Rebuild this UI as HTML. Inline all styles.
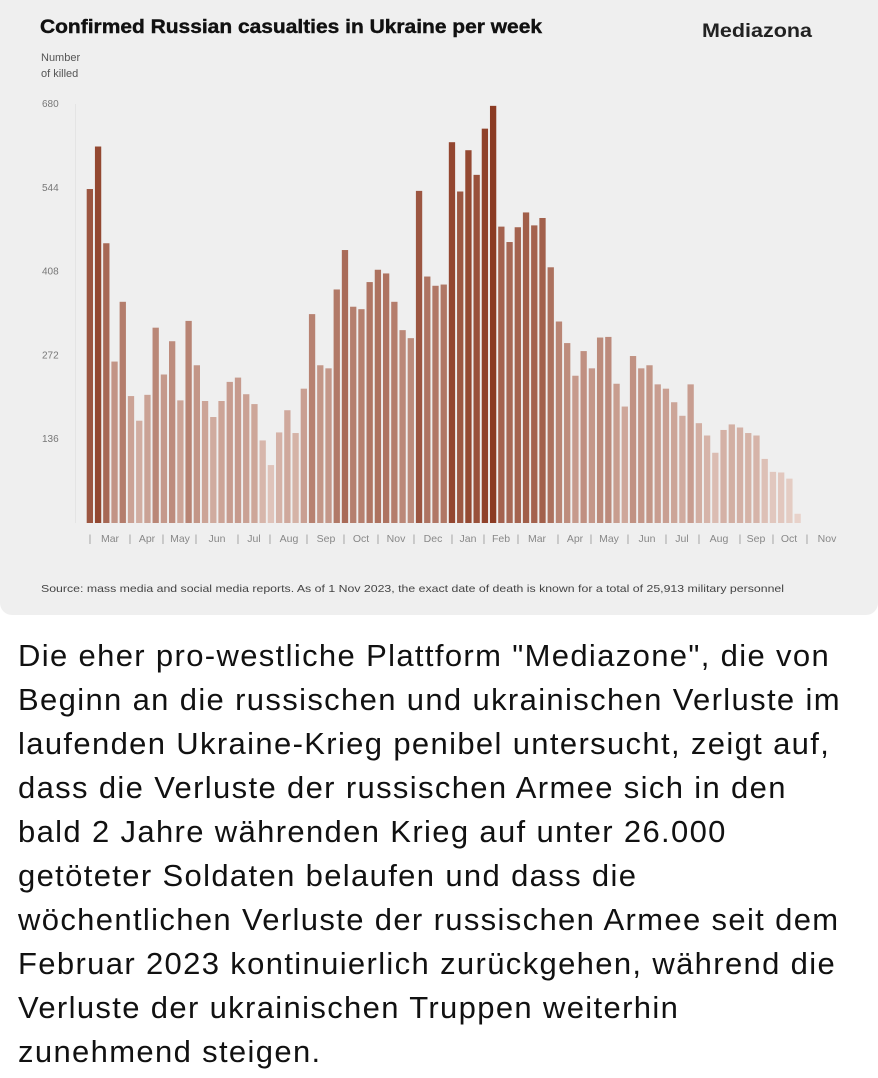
<!DOCTYPE html>
<html><head><meta charset="utf-8"><style>
html,body{margin:0;padding:0;background:#fff;width:878px;height:1078px;overflow:hidden}
#card{position:absolute;left:0;top:0;width:878px;height:615px;background:#efefef;border-radius:0 0 12px 12px}
#body-text{position:absolute;left:18px;top:634px;width:860px;font-family:"Liberation Sans",sans-serif;font-size:31px;letter-spacing:1.35px;line-height:44px;color:#111;white-space:nowrap}
</style></head><body>
<div id="card">
<svg id="chart" width="878" height="615" style="font-family:'Liberation Sans',sans-serif">
<text x="40" y="33" font-size="19" font-weight="bold" fill="#111" stroke="#111" stroke-width="0.4" textLength="502" lengthAdjust="spacingAndGlyphs">Confirmed Russian casualties in Ukraine per week</text>
<text x="702" y="37" font-size="19" font-weight="bold" fill="#222" textLength="110" lengthAdjust="spacingAndGlyphs">Mediazona</text>
<text x="41" y="61" font-size="11" fill="#555">Number</text>
<text x="41" y="77" font-size="11" fill="#555">of killed</text>
<g id="yaxis"></g><g id="bars"></g><g id="xaxis"></g>
<text x="41" y="592" font-size="10.5" fill="#444" textLength="743" lengthAdjust="spacingAndGlyphs">Source: mass media and social media reports. As of 1 Nov 2023, the exact date of death is known for a total of 25,913 military personnel</text>
</svg>
</div>
<div id="body-text">Die eher pro-westliche Plattform "Mediazone", die von<br>Beginn an die russischen und ukrainischen Verluste im<br>laufenden Ukraine-Krieg penibel untersucht, zeigt auf,<br>dass die Verluste der russischen Armee sich in den<br>bald 2 Jahre währenden Krieg auf unter 26.000<br>getöteter Soldaten belaufen und dass die<br>wöchentlichen Verluste der russischen Armee seit dem<br>Februar 2023 kontinuierlich zurückgehen, während die<br>Verluste der ukrainischen Truppen weiterhin<br>zunehmend steigen.</div>
<script>
const weeklyKilled=[542,611,454,262,359,206,166,208,317,241,295,199,328,256,198,172,198,229,236,209,193,134,94,147,183,146,218,339,256,251,379,443,351,347,391,411,405,359,313,300,539,400,385,387,618,538,605,565,640,677,481,456,480,504,483,495,415,327,292,239,279,251,301,302,226,189,271,251,256,225,218,196,174,225,162,142,114,151,160,155,146,142,104,83,82,72,15];
const yTicks=[136,272,408,544,680];
const monthLabels=["Mar","Apr","May","Jun","Jul","Aug","Sep","Oct","Nov","Dec","Jan","Feb","Mar","Apr","May","Jun","Jul","Aug","Sep","Oct","Nov"];
const monthX=[110,147,180,217,254,289,326,361,396,433,468,501,537,575,609,647,682,719,756,789,827];
const sepX=[90,130,163,196,238,270,307,344,378,414,452,484,518,558,591,628,666,699,740,773,807];
const NS="http://www.w3.org/2000/svg";
const y0=523,pxPer=419/680,barX0=86.7,pitch=8.23,barW=6.3;
const yScale=v=>y0-v*pxPer, xScale=i=>barX0+i*pitch;
function mk(t,a){const e=document.createElementNS(NS,t);for(const k in a)e.setAttribute(k,a[k]);return e;}
const ya=document.getElementById('yaxis');
yTicks.forEach(t=>{const e=mk('text',{x:42,y:yScale(t)+3,'font-size':10,fill:'#777'});e.textContent=t;


ya.appendChild(e);});
const ln=mk('line',{x1:75.5,x2:75.5,y1:104,y2:523,stroke:'#e4e4e4','stroke-width':1});


ya.appendChild(ln);
const dark=[139,58,34],light=[232,210,202];
const bg=document.getElementById('bars');
weeklyKilled.forEach((v,i)=>{const f=Math.min(1,Math.max(0,(v-60)/620));const f2=Math.pow(f,0.8);
const c=light.map((l,k)=>Math.round(l+(dark[k]-l)*f2));
const r=mk('rect',{x:xScale(i),y:yScale(v),width:barW,height:v*pxPer,fill:`rgb(${c})`});


bg.appendChild(r);});
const xa=document.getElementById('xaxis');
monthLabels.forEach((m,i)=>{const e=mk('text',{x:monthX[i],y:542,'font-size':10.5,fill:'#888','text-anchor':'middle'});e.textContent=m;


xa.appendChild(e);});
sepX.forEach(x=>{const e=mk('text',{x:x,y:542,'font-size':10.5,fill:'#999','text-anchor':'middle'});e.textContent='|';


xa.appendChild(e);});
</script>
</body></html>
